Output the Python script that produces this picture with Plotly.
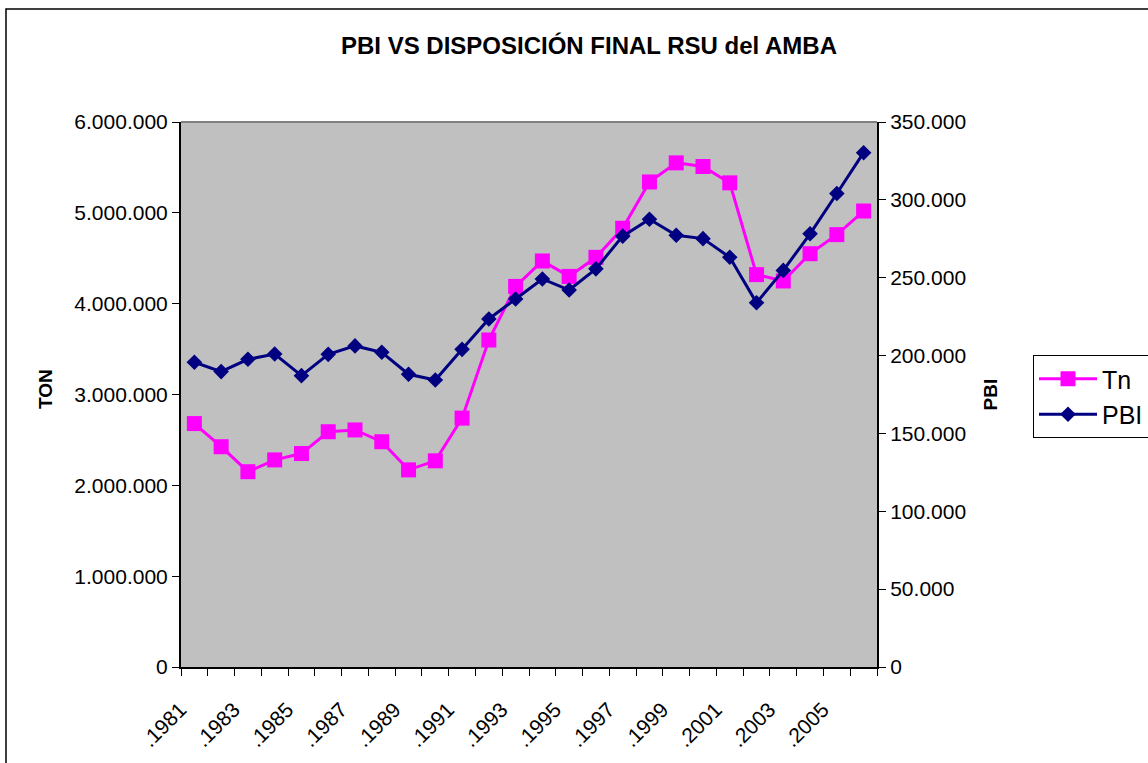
import plotly.graph_objects as go

# ---- data ----
years = list(range(1981, 2007))
year_labels = ["." + str(y) for y in years]
tn = [2680000, 2425000, 2150000, 2280000, 2350000, 2590000, 2610000, 2480000,
      2170000, 2270000, 2740000, 3600000, 4190000, 4470000, 4300000, 4510000,
      4830000, 5340000, 5550000, 5510000, 5330000, 4320000, 4250000, 4550000,
      4760000, 5020000]
pbi = [195700, 189700, 197600, 201000, 187100, 200800, 206200, 202100,
       188000, 184300, 204000, 223500, 236300, 249200, 242100, 255700,
       276700, 287500, 277300, 275100, 263100, 233900, 254700, 278200,
       304100, 330300]

FONT = "Liberation Sans, Arial, sans-serif"
bounds = [years[0] - 0.5 + i for i in range(len(years) + 1)]
xr = [years[0] - 0.5, years[-1] + 0.5]

fig = go.Figure()
fig.add_trace(go.Scatter(
    x=years, y=tn, name="Tn", mode="lines+markers", yaxis="y",
    legendgroup="a",
    line=dict(color="#FF00FF", width=3),
    marker=dict(symbol="square", size=15, color="#FF00FF")))
fig.add_trace(go.Scatter(
    x=years, y=pbi, name="PBI", mode="lines+markers", yaxis="y2",
    legendgroup="b",
    line=dict(color="#000080", width=3),
    marker=dict(symbol="diamond", size=12, color="#000080")))

fig.update_layout(
    width=1148, height=763,
    margin=dict(l=181, r=271, t=122, b=96, autoexpand=False),
    paper_bgcolor="white", plot_bgcolor="#C0C0C0",
    separators=",.",
    font=dict(family=FONT, color="black", size=21),
    title=dict(text="PBI VS DISPOSICIÓN FINAL RSU del AMBA",
               x=589 / 1148, xref="container", xanchor="center",
               y=1 - 46 / 763, yref="container", yanchor="middle",
               font=dict(family=FONT, size=24, weight="bold", color="black")),
    xaxis=dict(range=xr, tickmode="array", tickvals=years[::2],
               ticktext=year_labels[::2], ticks="", tickangle=-45,
               tickfont=dict(size=21), showline=True, linecolor="black",
               linewidth=2, showgrid=False, zeroline=False,
               ticklabelstandoff=20, ticklabelshift=-14,
               minor=dict(tickmode="array", tickvals=bounds, ticks="outside",
                          ticklen=7, tickcolor="black", tickwidth=1,
                          showgrid=False)),
    xaxis2=dict(range=xr, overlaying="x", side="bottom", anchor="y",
                tickmode="array", tickvals=bounds, ticks="inside", ticklen=7,
                tickcolor="black", showticklabels=False, showgrid=False,
                zeroline=False, showline=False),
    yaxis=dict(range=[0, 6000000], dtick=1000000, tick0=0, ticks="outside",
               ticklen=7, tickcolor="black", tickformat=",d",
               showline=True, linecolor="black", linewidth=2,
               showgrid=False, zeroline=False, tickfont=dict(size=21)),
    yaxis3=dict(range=[0, 6000000], dtick=1000000, tick0=0, overlaying="y",
                side="left", anchor="x", ticks="inside", ticklen=7,
                tickcolor="black", showticklabels=False, showgrid=False,
                zeroline=False, showline=False),
    yaxis2=dict(range=[0, 350000], dtick=50000, tick0=0, overlaying="y",
                side="right", anchor="x", ticks="outside", ticklen=7,
                tickcolor="black", tickformat=",d", showline=True,
                linecolor="black", linewidth=2, showgrid=False,
                zeroline=False, tickfont=dict(size=21)),
    yaxis4=dict(range=[0, 350000], dtick=50000, tick0=0, overlaying="y",
                side="right", anchor="x", ticks="inside", ticklen=7,
                tickcolor="black", showticklabels=False, showgrid=False,
                zeroline=False, showline=False),
    legend=dict(x=(1033 - 181) / 696, y=(667 - 355) / 545, xanchor="left",
                yanchor="top", bordercolor="black", borderwidth=1,
                bgcolor="white", font=dict(size=25, family=FONT),
                tracegroupgap=0, itemwidth=58),
    annotations=[
        dict(text="<b>TON</b>", x=(45 - 181) / 696, y=0.51, xref="paper",
             yref="paper", textangle=-90, showarrow=False,
             font=dict(size=19, family=FONT), xanchor="center",
             yanchor="middle"),
        dict(text="<b>PBI</b>", x=(990 - 181) / 696, y=0.5, xref="paper",
             yref="paper", textangle=-90, showarrow=False,
             font=dict(size=19, family=FONT), xanchor="center",
             yanchor="middle"),
    ],
    shapes=[
        dict(type="rect", xref="paper", yref="paper",
             x0=(6 - 181) / 696, x1=1.6, y0=-0.5, y1=(667 - 9) / 545,
             line=dict(color="black", width=1.5), layer="below"),
        dict(type="line", xref="paper", yref="paper", x0=0, x1=1, y0=1, y1=1,
             line=dict(color="#808080", width=2)),
    ],
)

fig.write_html("out.html", config={"displayModeBar": False},
               post_script="document.body.style.margin='0';document.body.style.overflow='hidden';")
